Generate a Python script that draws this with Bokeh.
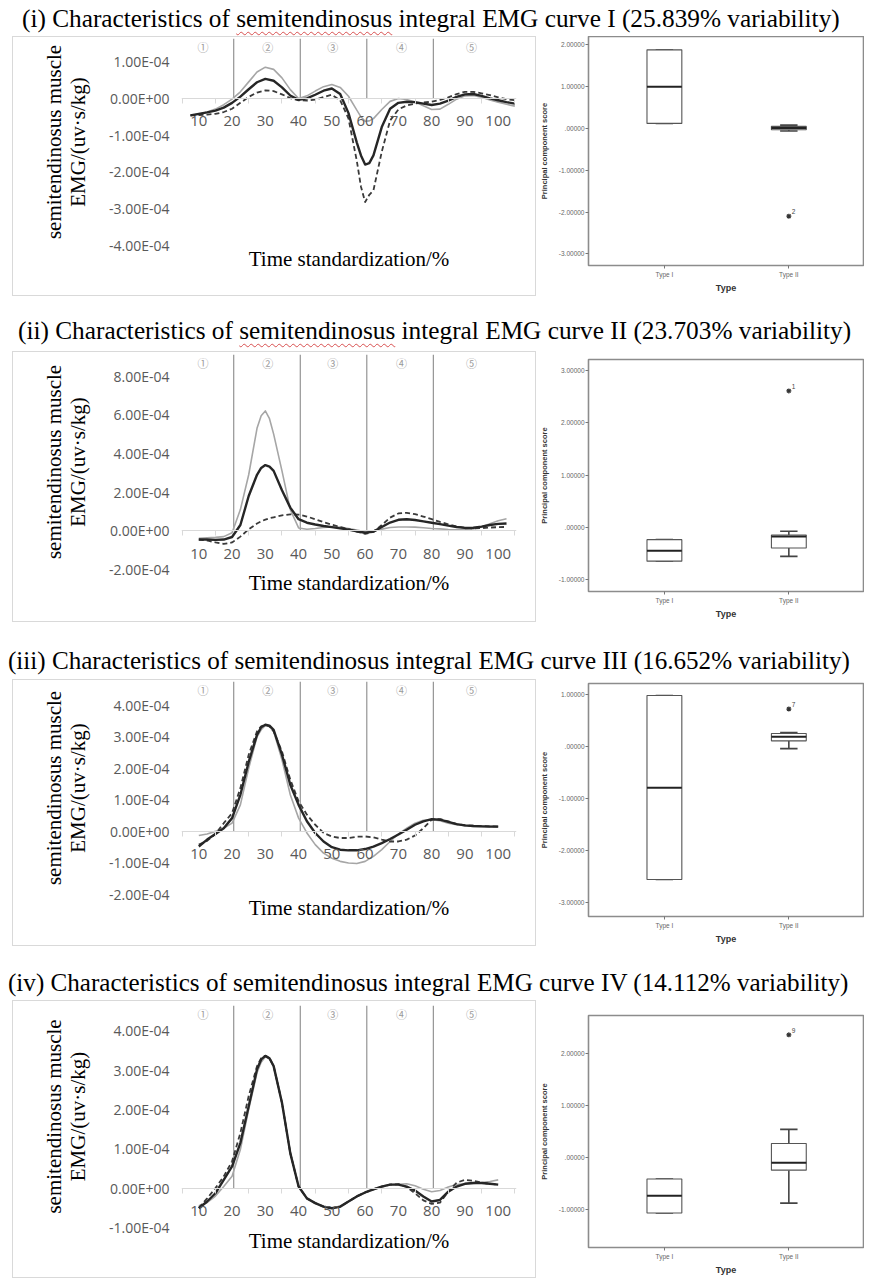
from bokeh.plotting import figure
from bokeh.models import (FixedTicker, LinearAxis, Range1d, CustomJSTickFormatter,
                          Div, ColumnDataSource, Row, Column)
from bokeh.transform import dodge
from bokeh.core.properties import value
from bokeh.embed import file_html
from bokeh.resources import INLINE

# ---------------- data ----------------
TITLES = [
    "(i) Characteristics of semitendinosus integral EMG curve I (25.839% variability)",
    "(ii) Characteristics of semitendinosus integral EMG curve II (23.703% variability)",
    "(iii) Characteristics of semitendinosus integral EMG curve III (16.652% variability)",
    "(iv) Characteristics of semitendinosus integral EMG curve IV (14.112% variability)",
]
Y_TITLE = "semitendinosus muscle\nEMG/(uv\u00b7s/kg)"
X_TITLE = "Time standardization/%"
UNIT = 1e-4  # curve values below are in units of 1e-4 uv*s/kg

X_P1 = [7.5, 10, 12.5, 15, 17.5, 20, 22.5, 25, 27.5, 30, 32.5, 35, 37.5, 40, 42.5, 45,
        47.5, 50, 52.5, 55, 57.5, 58.75, 60, 61.25, 62.5, 65, 67.5, 70, 72.5, 75, 77.5, 80,
        82.5, 85, 87.5, 90, 92.5, 95, 97.5, 100, 102.5, 105]
X_P2 = [10, 12.5, 15, 17.5, 20, 22.5, 25, 27.5, 28.75, 30, 31.25, 32.5, 35, 37.5, 40, 42.5,
        45, 47.5, 50, 52.5, 55, 57.5, 60, 62.5, 65, 67.5, 70, 72.5, 75, 77.5, 80, 82.5,
        85, 87.5, 90, 92.5, 95, 97.5, 100, 102.5]
X_P34 = [10, 12.5, 15, 17.5, 20, 22.5, 25, 27.5, 28.75, 30, 31.25, 32.5, 35, 37.5, 40, 42.5,
         45, 47.5, 50, 52.5, 55, 57.5, 60, 62.5, 65, 67.5, 70, 72.5, 75, 77.5, 80, 82.5,
         85, 87.5, 90, 92.5, 95, 97.5, 100]
X_CURVES = [X_P1, X_P2, X_P34, X_P34]

GRAY = [
    [-0.46, -0.43, -0.37, -0.29, -0.17, -0.02, 0.18, 0.45, 0.72, 0.85, 0.79, 0.56, 0.24, 0.0,
     0.07, 0.2, 0.32, 0.38, 0.3, 0.06, -0.32, -0.5, -0.62, -0.61, -0.55, -0.3, -0.08, 0.0,
     -0.03, -0.1, -0.2, -0.3, -0.29, -0.16, -0.02, 0.07, 0.08, 0.03, -0.04, -0.1, -0.16, -0.21],
    [-0.38, -0.36, -0.34, -0.3, -0.1, 1.1, 2.9, 5.3, 5.95, 6.2, 5.8, 5.0, 3.1, 1.1, 0.15, 0.08,
     0.12, 0.17, 0.2, 0.19, 0.12, 0.04, -0.05, -0.02, 0.09, 0.17, 0.2, 0.2, 0.19, 0.16, 0.12,
     0.1, 0.07, 0.05, 0.05, 0.1, 0.2, 0.36, 0.52, 0.62],
    [-0.13, -0.08, 0.0, 0.1, 0.26, 0.84, 2.0, 3.0, 3.22, 3.36, 3.32, 3.17, 2.27, 1.16, 0.42,
     -0.05, -0.42, -0.69, -0.85, -0.95, -1.0, -1.02, -0.95, -0.79, -0.58, -0.32, -0.08, 0.1,
     0.26, 0.35, 0.37, 0.34, 0.26, 0.21, 0.18, 0.16, 0.16, 0.16, 0.16],
    [-0.45, -0.37, -0.2, 0.04, 0.3, 0.98, 2.0, 2.93, 3.2, 3.34, 3.28, 3.1, 2.17, 0.89, 0.04,
     -0.26, -0.38, -0.47, -0.51, -0.47, -0.34, -0.21, -0.11, -0.02, 0.05, 0.09, 0.1, 0.11,
     0.06, -0.03, -0.09, -0.06, 0.03, 0.09, 0.11, 0.12, 0.14, 0.17, 0.21],
]
BLACK = [
    [-0.46, -0.42, -0.38, -0.33, -0.25, -0.12, 0.05, 0.25, 0.44, 0.53, 0.48, 0.3, 0.08, -0.04,
     0.0, 0.1, 0.21, 0.27, 0.12, -0.4, -1.2, -1.55, -1.8, -1.76, -1.55, -0.78, -0.28, -0.12,
     -0.09, -0.1, -0.14, -0.18, -0.14, -0.06, 0.04, 0.11, 0.12, 0.07, 0.0, -0.05, -0.1, -0.14],
    [-0.45, -0.45, -0.47, -0.45, -0.32, 0.3, 1.8, 2.9, 3.25, 3.4, 3.32, 3.1, 2.1, 1.2, 0.6,
     0.42, 0.33, 0.25, 0.19, 0.13, 0.06, -0.02, -0.1, -0.04, 0.2, 0.43, 0.57, 0.6, 0.56, 0.49,
     0.42, 0.35, 0.27, 0.2, 0.15, 0.16, 0.22, 0.3, 0.36, 0.38],
    [-0.48, -0.26, -0.08, 0.1, 0.42, 1.16, 2.2, 3.06, 3.3, 3.38, 3.35, 3.22, 2.43, 1.48, 0.84,
     0.32, -0.05, -0.32, -0.5, -0.58, -0.6, -0.6, -0.56, -0.48, -0.37, -0.24, -0.1, 0.05,
     0.21, 0.32, 0.39, 0.37, 0.3, 0.23, 0.19, 0.17, 0.16, 0.15, 0.15],
    [-0.51, -0.34, -0.13, 0.21, 0.55, 1.15, 2.08, 3.02, 3.27, 3.36, 3.3, 3.1, 2.17, 0.89, 0.04,
     -0.26, -0.38, -0.47, -0.51, -0.47, -0.34, -0.21, -0.11, -0.03, 0.04, 0.09, 0.09, 0.04,
     -0.06, -0.21, -0.34, -0.3, -0.09, 0.04, 0.11, 0.13, 0.13, 0.11, 0.09],
]
DASH = [
    [-0.46, -0.45, -0.44, -0.42, -0.37, -0.28, -0.12, 0.04, 0.16, 0.22, 0.2, 0.11, 0.01, -0.05,
     -0.06, -0.03, 0.04, 0.1, -0.05, -0.55, -1.7, -2.4, -2.82, -2.62, -2.5, -1.45, -0.6, -0.3,
     -0.19, -0.14, -0.11, -0.09, -0.04, 0.03, 0.12, 0.18, 0.18, 0.14, 0.09, 0.03, -0.02, -0.05],
    [-0.45, -0.5, -0.6, -0.68, -0.6, -0.3, 0.08, 0.38, 0.49, 0.58, 0.65, 0.7, 0.8, 0.85, 0.84,
     0.74, 0.6, 0.45, 0.32, 0.2, 0.09, -0.04, -0.16, -0.05, 0.3, 0.68, 0.9, 0.93, 0.86, 0.74,
     0.6, 0.46, 0.34, 0.23, 0.16, 0.13, 0.14, 0.17, 0.19, 0.2],
    [-0.42, -0.3, -0.08, 0.26, 0.58, 1.37, 2.43, 3.17, 3.33, 3.38, 3.33, 3.17, 2.53, 1.64, 0.95,
     0.53, 0.21, -0.05, -0.16, -0.21, -0.21, -0.17, -0.16, -0.19, -0.26, -0.32, -0.32, -0.26,
     -0.13, 0.1, 0.37, 0.39, 0.32, 0.23, 0.19, 0.18, 0.17, 0.16, 0.15],
    [-0.5, -0.26, 0.0, 0.3, 0.68, 1.4, 2.34, 3.1, 3.3, 3.36, 3.3, 3.1, 2.17, 0.89, 0.04, -0.26,
     -0.38, -0.47, -0.51, -0.47, -0.34, -0.21, -0.11, -0.03, 0.04, 0.09, 0.1, 0.03, -0.13,
     -0.31, -0.4, -0.37, -0.09, 0.14, 0.21, 0.19, 0.14, 0.11, 0.09],
]
Y_TICKS = [[-4, -3, -2, -1, 0, 1], [-2, 0, 2, 4, 6, 8], [-2, -1, 0, 1, 2, 3, 4], [-1, 0, 1, 2, 3, 4]]
X_TICKS = [10, 20, 30, 40, 50, 60, 70, 80, 90, 100]
X_MINOR = [5, 15, 25, 35, 45, 55, 65, 75, 85, 95, 105]
PHASE_BOUNDS = [20, 40, 60, 80]
PHASE_NAMES = ["\u2460", "\u2461", "\u2462", "\u2463", "\u2464"]
PHASE_LABEL_X = [11.3, 30.7, 50.3, 70.9, 92.0]

TYPES = ["Type I", "Type II"]
BOX_LOW = [[0.12, -0.06], [-0.64, -0.55], [-2.55, -0.04], [-1.06, -0.87]]
BOX_Q1 = [[0.12, -0.03], [-0.64, -0.39], [-2.55, 0.11], [-1.06, -0.24]]
BOX_MED = [[1.0, 0.01], [-0.44, -0.17], [-0.79, 0.19], [-0.73, -0.10]]
BOX_Q3 = [[1.88, 0.05], [-0.23, -0.14], [0.98, 0.25], [-0.41, 0.27]]
BOX_HIGH = [[1.88, 0.08], [-0.23, -0.07], [0.98, 0.27], [-0.41, 0.54]]
OUTLIER_Y = [-2.1, 2.61, 0.72, 2.35]
OUTLIER_ID = ["2", "1", "7", "9"]
BOX_TICKS = [[-3, -2, -1, 0, 1, 2], [-1, 0, 1, 2, 3], [-3, -2, -1, 0, 1], [-1, 0, 1, 2]]

# ---------------- layout parameters ----------------
# (padding-top, div height, padding-left, font size px)
SECTION_TITLE = [(0, 28, 14, 25.3), (24, 55, 10, 25.3), (29, 57, 0, 25.1), (27, 54, 0, 25.1)]
PANEL_H = [260, 271, 267, 278]
LINE_YR = [(-4.0, 1.63), (-2.0, 9.12), (-2.0, 4.75), (-1.0, 4.64)]
LINE_BORDER = [(1, 52), (2, 54), (1, 53), (4, 52)]
BOX_YR = [(-3.28, 2.2), (-1.22, 3.21), (-3.26, 1.21), (-1.72, 2.72)]
BOX_BORDER = [(0, 31, 52), (8, 31, 48), (4, 30, 51), (15, 31, 52)]

EXCEL_FMT = CustomJSTickFormatter(code="""
const v = Math.abs(tick) < 1e-12 ? 0 : tick;
let s = v.toExponential(2).toUpperCase();
const m = s.match(/^(-?[0-9.]+)E([+-])([0-9]+)$/);
if (m) { s = m[1] + "E" + m[2] + (m[3].length < 2 ? "0" + m[3] : m[3]); }
return s;
""")
SPSS_FMT = CustomJSTickFormatter(code="""
let s = tick.toFixed(5);
if (s === "-0.00000") s = "0.00000";
return s.replace(/^(-?)0\\./, "$1.");
""")

SERIF = "Liberation Serif"
SANS = "Open Sans"


def title_div(i):
    pad, h, padl, fs = SECTION_TITLE[i]
    text = TITLES[i]
    if i < 2:
        text = text.replace(
            "semitendinosus",
            '<span style="text-decoration: underline wavy #d85050; '
            'text-decoration-thickness: 1px; text-underline-offset: 4px;">semitendinosus</span>', 1)
    html = (f'<div style="padding-top:{pad}px;padding-left:{padl}px;'
            f'font-family:\'{SERIF}\',serif;font-size:{fs}px;'
            f'line-height:20px;white-space:nowrap;color:#000;">{text}</div>')
    return Div(text=html, width=864, height=h, margin=0)


def line_panel(i):
    yr = LINE_YR[i]
    top_b, bot_b = LINE_BORDER[i]
    p = figure(width=524, height=PANEL_H[i], x_range=Range1d(4.8, 105.5),
               y_range=Range1d(yr[0] * UNIT, yr[1] * UNIT),
               output_backend="svg", toolbar_location=None,
               min_border_left=168, min_border_right=21,
               min_border_top=top_b, min_border_bottom=bot_b)
    p.styles = {"border": "1px solid #d9d9d9", "box-sizing": "border-box"}
    p.outline_line_color = None
    p.xgrid.visible = False
    p.ygrid.visible = False
    p.background_fill_color = "white"

    ya = p.yaxis[0]
    ya.ticker = FixedTicker(ticks=[t * UNIT for t in Y_TICKS[i]])
    ya.formatter = EXCEL_FMT
    ya.axis_line_color = None
    ya.major_tick_line_color = None
    ya.minor_tick_line_color = None
    ya.major_tick_out = 0
    ya.major_label_standoff = 12
    ya.major_label_text_font = SANS
    ya.major_label_text_font_size = "14px"
    ya.major_label_text_color = "#595959"
    ya.axis_label = Y_TITLE
    ya.axis_label_text_font = SERIF
    ya.axis_label_text_font_size = "21px"
    ya.axis_label_text_font_style = "normal"
    ya.axis_label_text_color = "#000000"
    ya.axis_label_text_line_height = 1.0
    ya.axis_label_standoff = 16

    xa = p.xaxis[0]
    xa.ticker = FixedTicker(ticks=[])
    xa.axis_line_color = None
    xa.major_tick_line_color = None
    xa.minor_tick_line_color = None
    xa.axis_label = X_TITLE
    xa.axis_label_text_font = SERIF
    xa.axis_label_text_font_size = "21px"
    xa.axis_label_text_font_style = "normal"
    xa.axis_label_text_color = "#000000"
    xa.axis_label_standoff = 1

    x0 = LinearAxis(fixed_location=0,
                    ticker=FixedTicker(ticks=X_TICKS, minor_ticks=X_MINOR))
    x0.axis_line_color = "#d9d9d9"
    x0.axis_line_width = 1.2
    x0.major_tick_line_color = None
    x0.major_tick_out = 0
    x0.major_tick_in = 0
    x0.minor_tick_line_color = "#d9d9d9"
    x0.minor_tick_out = 5
    x0.minor_tick_in = 0
    x0.major_label_standoff = 13
    x0.major_label_text_font = SANS
    x0.major_label_text_font_size = "15px"
    x0.major_label_text_color = "#595959"
    p.add_layout(x0, "below")

    # phase boundaries and names
    bsrc = ColumnDataSource(dict(b=PHASE_BOUNDS, y0=[0] * len(PHASE_BOUNDS),
                                 y1=[yr[1] * UNIT] * len(PHASE_BOUNDS)))
    bx = dodge("b", 0.5, range=p.x_range)
    p.segment(x0=bx, x1=bx, y0="y0", y1="y1", source=bsrc,
              line_color="#8a8a8a", line_width=1.1)
    p.text(x=PHASE_LABEL_X, y=[yr[1] * UNIT] * len(PHASE_NAMES), text=PHASE_NAMES,
           text_align="center", text_baseline="middle", y_offset=8,
           text_font=value("Noto Sans CJK SC"), text_font_size="11px", text_color="#9a9a9a")

    xs = X_CURVES[i]
    p.line(xs, [v * UNIT for v in GRAY[i]], line_color="#a6a6a6", line_width=1.6,
           line_join="round")
    p.line(xs, [v * UNIT for v in DASH[i]], line_color="#3a3a3a", line_width=1.8,
           line_dash="5 3", line_join="round")
    p.line(xs, [v * UNIT for v in BLACK[i]], line_color="#262626", line_width=2.4,
           line_join="round")
    return p


def box_panel(i):
    yr = BOX_YR[i]
    top_b, bot_b, left_b = BOX_BORDER[i]
    p = figure(width=328, height=PANEL_H[i], x_range=Range1d(0.39, 2.6),
               y_range=Range1d(*yr), output_backend="svg", toolbar_location=None,
               min_border_left=left_b, min_border_right=1,
               min_border_top=top_b, min_border_bottom=bot_b)
    p.outline_line_color = "#8c8c8c"
    p.outline_line_width = 1.6
    p.xgrid.visible = False
    p.ygrid.visible = False

    ya = p.yaxis[0]
    ya.ticker = FixedTicker(ticks=BOX_TICKS[i])
    ya.formatter = SPSS_FMT
    ya.axis_line_color = None
    ya.major_tick_line_color = "#777777"
    ya.major_tick_out = 3
    ya.major_tick_in = 0
    ya.minor_tick_line_color = None
    ya.major_label_standoff = 1
    ya.major_label_text_font = "Liberation Sans"
    ya.major_label_text_font_size = "6.5px"
    ya.major_label_text_color = "#666666"
    ya.axis_label = "Principal component score"
    ya.axis_label_text_font = "Liberation Sans"
    ya.axis_label_text_font_size = "7.5px"
    ya.axis_label_text_font_style = "bold"
    ya.axis_label_text_color = "#333333"
    ya.axis_label_standoff = 7

    positions = [k + 1 for k in range(len(TYPES))]
    xa = p.xaxis[0]
    xa.ticker = FixedTicker(ticks=positions)
    xa.major_label_overrides = {pos: name for pos, name in zip(positions, TYPES)}
    xa.axis_line_color = None
    xa.major_tick_line_color = "#777777"
    xa.major_tick_out = 3
    xa.major_tick_in = 0
    xa.minor_tick_line_color = None
    xa.major_label_standoff = 2
    xa.major_label_text_font = "Liberation Sans"
    xa.major_label_text_font_size = "6.5px"
    xa.major_label_text_color = "#666666"
    xa.axis_label = "Type"
    xa.axis_label_text_font = "Liberation Sans"
    xa.axis_label_text_font_size = "9px"
    xa.axis_label_text_font_style = "bold"
    xa.axis_label_text_color = "#333333"
    xa.axis_label_standoff = 2

    src = ColumnDataSource(dict(x=positions, lo=BOX_LOW[i], q1=BOX_Q1[i], med=BOX_MED[i],
                                q3=BOX_Q3[i], hi=BOX_HIGH[i]))
    half, cap = 0.14, 0.07
    left = dodge("x", -half, range=p.x_range)
    right = dodge("x", half, range=p.x_range)
    cl = dodge("x", -cap, range=p.x_range)
    cr = dodge("x", cap, range=p.x_range)
    p.segment(x0="x", x1="x", y0="q3", y1="hi", source=src, line_color="#444444", line_width=1.6)
    p.segment(x0="x", x1="x", y0="lo", y1="q1", source=src, line_color="#444444", line_width=1.6)
    p.segment(x0=cl, x1=cr, y0="hi", y1="hi", source=src, line_color="#444444", line_width=1.6)
    p.segment(x0=cl, x1=cr, y0="lo", y1="lo", source=src, line_color="#444444", line_width=1.6)
    p.quad(left=left, right=right, bottom="q1", top="q3", source=src,
           fill_color="white", line_color="#555555", line_width=1.1)
    p.segment(x0=left, x1=right, y0="med", y1="med", source=src,
              line_color="#222222", line_width=2.0)

    p.scatter([positions[1]], [OUTLIER_Y[i]], marker="asterisk", size=5,
              line_color="#333333", line_width=1.2)
    p.text([positions[1]], [OUTLIER_Y[i]], text=[OUTLIER_ID[i]], x_offset=3, y_offset=-2,
           text_baseline="bottom", text_font=value("Liberation Sans"),
           text_font_size="6.5px", text_color="#444444")
    return p


children = []
for i in range(4):
    children.append(title_div(i))
    left = Column(children=[line_panel(i)], margin=(0, 0, 0, 4))
    right = Column(children=[box_panel(i)])
    children.append(Row(children=[left, right], spacing=0))

page = Column(children=children, spacing=0, margin=(8, 0, 0, 8))
open("out.html", "w").write(file_html(page, INLINE))
